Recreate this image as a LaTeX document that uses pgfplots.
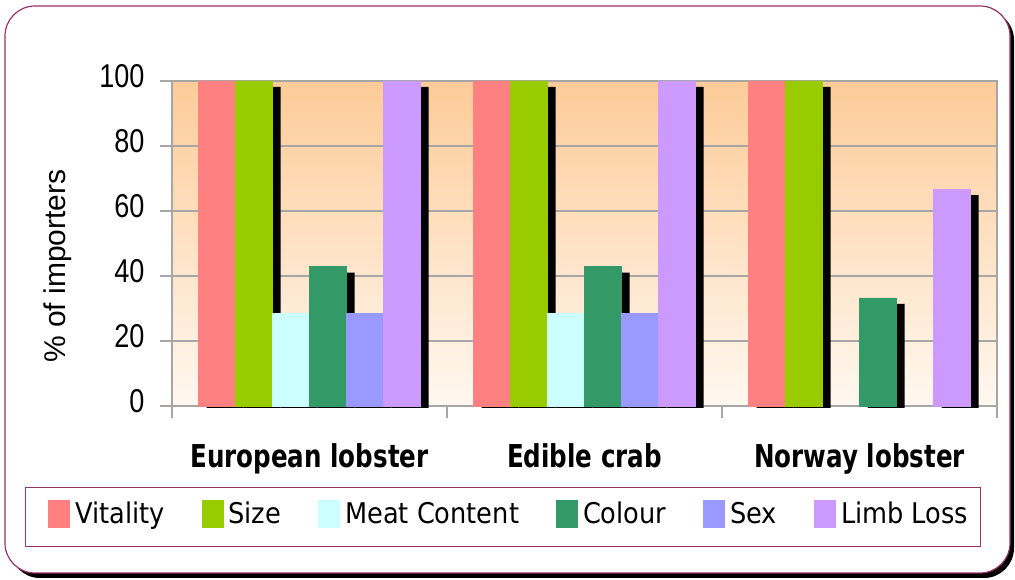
\documentclass[border=0pt]{standalone}
\usepackage{pgfplots}
\pgfplotsset{compat=1.18}
\usepackage{pgfplotstable}
\usepackage{fontspec}
\setmainfont{Liberation Sans}
\newfontfamily\tickfont{Liberation Sans}[FakeStretch=0.82]
\newfontfamily\legfont{DejaVu Sans}[FakeStretch=0.9]
\newfontfamily\catfont{DejaVu Sans}[FakeStretch=0.78]
\definecolor{cVit}{HTML}{FF8080}
\definecolor{cSize}{HTML}{99CC00}
\definecolor{cMeat}{HTML}{CCFFFF}
\definecolor{cCol}{HTML}{339966}
\definecolor{cSex}{HTML}{9999FF}
\definecolor{cLimb}{HTML}{CC99FF}
\definecolor{frame}{HTML}{993366}
\definecolor{gridc}{HTML}{A6A6A6}
\definecolor{bgtop}{HTML}{FDCB98}
\definecolor{bgbot}{HTML}{FFF8F0}

\pgfplotstableread{
x v
0 100
1 100
2 100
}\vitality
\pgfplotstableread{
x v
0 100
1 100
2 100
}\sizet
\pgfplotstableread{
x v
0 28.6
1 28.6
}\meat
\pgfplotstableread{
x v
0 42.9
1 42.9
2 33.3
}\colourt
\pgfplotstableread{
x v
0 28.6
1 28.6
}\sex
\pgfplotstableread{
x v
0 100
1 100
2 66.7
}\limb

\pgfplotsset{
  leg/.style={legend image code/.code={\path[##1,draw=none] (0pt,-14pt) rectangle (22pt,14pt);}},
  shadow/.style={fill=black, draw=none, forget plot, yshift=-2pt},
}

\begin{document}
\begin{tikzpicture}[x=1pt,y=1pt]
\useasboundingbox (0,0) rectangle (1015,580);
\fill[black, rounded corners=30pt] (10,2) rectangle (1014,570);
\filldraw[fill=white, draw=frame, line width=1.2pt, rounded corners=30pt] (5,7) rectangle (1010,574);
\draw[frame, line width=0.8pt] (25,34) rectangle (980,93);
\begin{axis}[
  at={(172pt,174pt)}, anchor=south west,
  scale only axis, width=825pt, height=325pt,
  xmin=-0.5, xmax=2.5, ymin=0, ymax=100,
  ybar, bar width=37pt,
  clip=false,
  axis background/.style={top color=bgtop, bottom color=bgbot},
  axis line style={gridc, line width=2pt},
  ytick={0,20,...,100},
  ymajorgrids, grid style={gridc, line width=1.2pt},
  major tick length=12pt,
  tick style={gridc, line width=1.2pt},
  tick align=outside,
  xtick pos=bottom, ytick pos=left,
  xtick={-0.5,0.5,1.5,2.5}, xticklabels={},
  extra x ticks={0,1,2},
  extra x tick labels={European lobster, Edible crab, Norway lobster},
  extra x tick style={major tick length=0pt, xticklabel style={font=\catfont\bfseries\fontsize{31.5}{34}\selectfont, yshift=-34pt, anchor=north}},
  /pgf/number format/assume math mode=true,
  yticklabel style={font=\tickfont\fontsize{33}{36}\selectfont, yshift=5pt, xshift=-12pt},
  ylabel={\% of importers},
  ylabel style={font=\fontsize{30}{33}\selectfont, at={(axis description cs:-0.139,0.43)}, anchor=center, rotate=0},
  legend style={at={(axis description cs:-0.1503,-0.332)}, anchor=west, draw=none, fill=none, inner sep=0pt,
    font=\legfont\fontsize{28.5}{32}\selectfont,
    /tikz/every even column/.append style={column sep=35pt},
    /tikz/every odd column/.append style={column sep=3pt}},
  legend columns=6,
]
\addplot[shadow, bar shift=-84.5pt] table[x=x, y expr=\thisrow{v}-1.23] {\vitality};
\addplot[fill=cVit, draw=cVit, line width=0.3pt, bar shift=-92.5pt, leg] table[x=x, y=v] {\vitality};
\addplot[shadow, bar shift=-47.5pt] table[x=x, y expr=\thisrow{v}-1.23] {\sizet};
\addplot[fill=cSize, draw=cSize, line width=0.3pt, bar shift=-55.5pt, leg] table[x=x, y=v] {\sizet};
\addplot[shadow, bar shift=-10.5pt] table[x=x, y expr=\thisrow{v}-1.23] {\meat};
\addplot[fill=cMeat, draw=cMeat, line width=0.3pt, bar shift=-18.5pt, leg] table[x=x, y=v] {\meat};
\addplot[shadow, bar shift=26.5pt] table[x=x, y expr=\thisrow{v}-1.23] {\colourt};
\addplot[fill=cCol, draw=cCol, line width=0.3pt, bar shift=18.5pt, leg] table[x=x, y=v] {\colourt};
\addplot[shadow, bar shift=63.5pt] table[x=x, y expr=\thisrow{v}-1.23] {\sex};
\addplot[fill=cSex, draw=cSex, line width=0.3pt, bar shift=55.5pt, leg] table[x=x, y=v] {\sex};
\addplot[shadow, bar shift=100.5pt] table[x=x, y expr=\thisrow{v}-1.23] {\limb};
\addplot[fill=cLimb, draw=cLimb, line width=0.3pt, bar shift=92.5pt, leg] table[x=x, y=v] {\limb};
\legend{Vitality, Size, Meat Content, Colour, Sex, Limb Loss}
\end{axis}
\end{tikzpicture}
\end{document}
